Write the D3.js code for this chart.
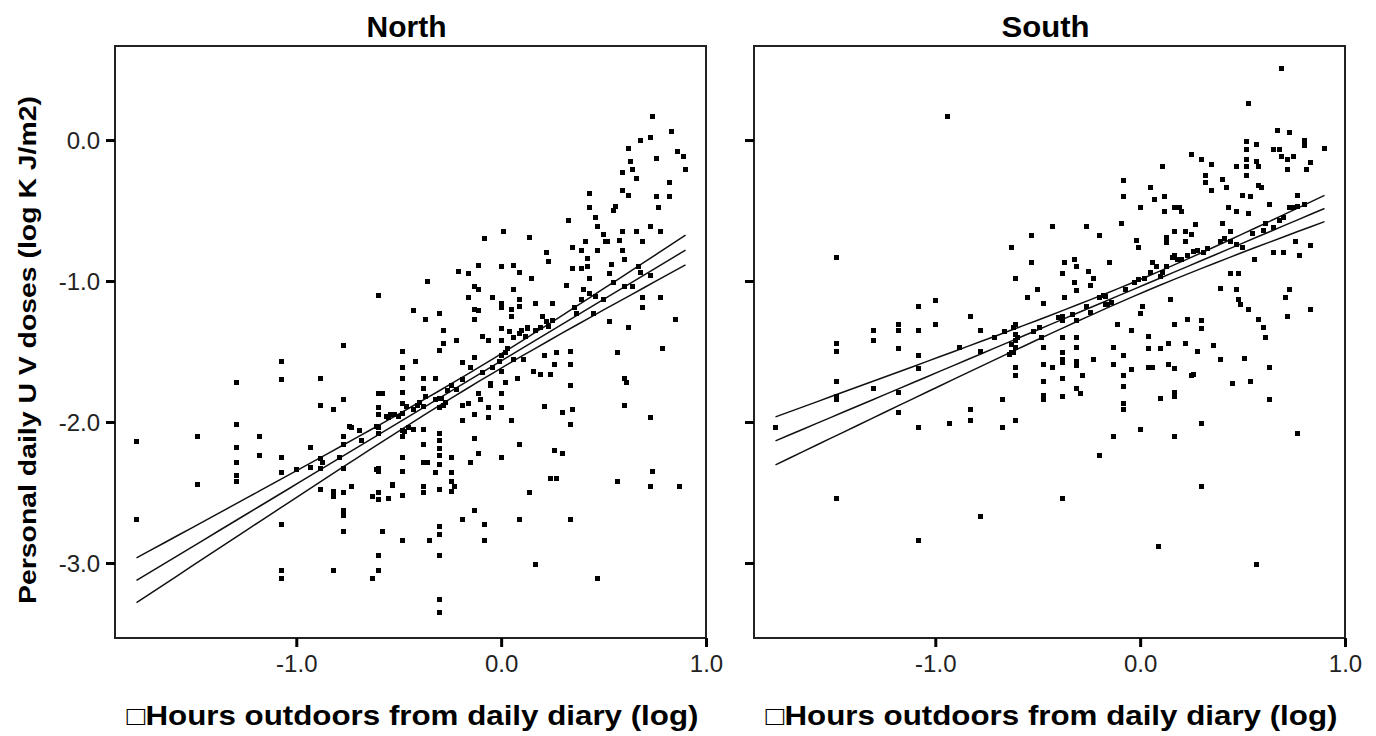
<!DOCTYPE html>
<html>
<head>
<meta charset="utf-8">
<script src="https://cdn.jsdelivr.net/npm/d3@7"></script>
<style>
    body { margin: 0; background: #ffffff; }
    svg { display: block; }
</style>
</head>
<body>
<svg id="uv_svg"></svg>
<script>
"use strict";

const width = 1376;
const height = 736;

const frame_top = 46;
const frame_bottom = 638;
const panel_left = [115, 754];
const panel_width = 591;

const marker_size = 5;
const tick_length = 9;

// panels, ticks
const panelNames = ["North", "South"];
const titleWidths = [80, 88];
const xTicks = [-1, 0, 1];
const xTickLabels = ["-1.0", "0.0", "1.0"];
const yTicks = [0, -1, -2, -3];
const yTickLabels = ["0.0", "-1.0", "-2.0", "-3.0"];
const xDomain = [-1.885, 1.0];
const yDomain = [-3.532, 0.667];

const xTitle = "\u25A1Hours outdoors from daily diary (log)";
const yTitle = "Personal daily U V doses (log K J/m2)";

// fitted line with confidence band (North, South)
const fitIntercept = [-1.567, -1.039];
const fitSlope = [0.874, 0.615];
const bandCenter = [-0.12, 0.03];
const bandMin = [0.05, 0.05];
const bandGrowth = [0.091, 0.090];

// scatter points [log hours, log dose]
const northPoints = [
    [-1.78,-2.14],[-1.78,-2.69],
    [-1.48,-2.10],[-1.48,-2.44],
    [-1.29,-1.72],[-1.29,-2.02],[-1.29,-2.18],[-1.29,-2.29],[-1.29,-2.38],[-1.29,-2.42],
    [-1.18,-2.10],[-1.18,-2.24],
    [-1.07,-1.57],[-1.07,-1.70],[-1.07,-2.25],[-1.07,-2.36],[-1.07,-2.73],[-1.07,-3.05],[-1.07,-3.11],
    [-1.00,-2.34],[-0.93,-2.18],[-0.93,-2.32],
    [-0.88,-1.69],[-0.88,-1.88],[-0.88,-2.33],[-0.88,-2.48],[-0.88,-2.26],[-0.87,-2.29],
    [-0.82,-1.91],[-0.82,-2.49],[-0.82,-2.53],[-0.82,-3.05],
    [-0.79,-2.25],
    [-0.77,-1.46],[-0.77,-1.84],[-0.77,-2.10],[-0.77,-2.16],[-0.77,-2.33],[-0.77,-2.50],[-0.77,-2.63],[-0.77,-2.66],[-0.77,-2.78],
    [-0.74,-2.03],[-0.73,-2.04],[-0.73,-2.46],[-0.69,-2.06],[-0.68,-2.13],
    [-0.63,-2.53],[-0.63,-3.11],[-0.61,-2.03],[-0.61,-2.34],
    [-0.60,-1.10],[-0.60,-1.80],[-0.60,-1.90],[-0.60,-1.95],[-0.60,-2.04],[-0.60,-2.08],[-0.60,-2.33],[-0.60,-2.35],
    [-0.60,-2.50],[-0.60,-2.55],[-0.60,-2.95],[-0.60,-3.05],
    [-0.58,-1.80],[-0.58,-2.78],[-0.56,-1.96],[-0.55,-1.97],[-0.55,-2.54],[-0.54,-1.95],[-0.53,-2.44],[-0.53,-2.45],[-0.52,-1.95],
    [-0.50,-1.96],
    [-0.48,-1.50],[-0.48,-1.61],[-0.48,-1.69],[-0.48,-1.79],[-0.48,-1.87],[-0.48,-1.94],[-0.48,-2.06],[-0.48,-2.10],
    [-0.48,-2.25],[-0.48,-2.35],[-0.48,-2.52],[-0.48,-2.84],
    [-0.47,-2.07],[-0.46,-1.89],[-0.45,-2.04],
    [-0.43,-1.21],[-0.42,-1.57],[-0.43,-1.91],[-0.43,-2.05],[-0.41,-1.88],[-0.40,-1.86],
    [-0.38,-1.69],[-0.38,-1.76],[-0.38,-1.89],[-0.38,-2.05],[-0.38,-2.16],[-0.38,-2.29],[-0.38,-2.46],[-0.38,-2.50],
    [-0.37,-1.27],[-0.37,-1.82],[-0.36,-1.00],[-0.35,-2.84],[-0.36,-2.29],
    [-0.32,-1.69],[-0.32,-2.36],[-0.32,-1.84],
    [-0.30,-1.23],[-0.30,-1.49],[-0.30,-1.83],[-0.30,-1.90],[-0.30,-2.08],[-0.30,-2.13],[-0.30,-2.19],[-0.30,-2.24],
    [-0.30,-2.30],[-0.30,-2.48],[-0.30,-2.74],[-0.30,-2.80],[-0.30,-2.95],[-0.30,-3.26],[-0.30,-3.35],
    [-0.29,-1.83],[-0.28,-1.88],
    [-0.28,-1.35],[-0.28,-1.44],[-0.27,-1.86],[-0.26,-1.78],
    [-0.24,-1.74],[-0.24,-2.25],[-0.24,-2.36],[-0.24,-2.42],[-0.24,-2.49],[-0.23,-2.46],[-0.22,-1.77],
    [-0.22,-1.42],[-0.21,-0.93],[-0.19,-1.58],[-0.19,-1.70],[-0.19,-1.88],[-0.19,-1.99],[-0.19,-2.69],
    [-0.16,-0.95],[-0.16,-1.12],[-0.16,-1.87],[-0.15,-1.61],[-0.15,-2.29],
    [-0.13,-1.04],[-0.13,-1.20],[-0.13,-1.27],[-0.13,-1.54],[-0.13,-1.95],[-0.13,-2.12],[-0.13,-2.63],
    [-0.11,-0.89],[-0.11,-1.06],[-0.11,-1.21],[-0.11,-1.80],[-0.11,-2.22],[-0.10,-1.84],
    [-0.09,-1.39],[-0.09,-1.65],[-0.08,-0.70],[-0.08,-2.73],[-0.08,-2.84],
    [-0.06,-1.42],[-0.06,-1.90],[-0.06,-1.97],[-0.05,-1.73],[-0.05,-1.74],[-0.04,-1.12],[-0.04,-1.61],
    [-0.01,-1.57],
    [0.00,-0.90],[0.00,-1.16],[0.00,-1.19],[0.00,-1.34],[0.00,-1.42],[0.00,-1.53],[0.00,-1.64],[0.00,-1.80],[0.00,-1.90],[0.00,-2.25],
    [0.01,-0.65],[0.02,-1.72],[0.02,-1.51],[0.03,-1.48],
    [0.05,-1.20],[0.05,-1.25],[0.04,-1.36],[0.05,-1.99],[0.06,-1.56],[0.06,-1.40],
    [0.06,-0.89],[0.06,-1.06],[0.08,-1.69],[0.09,-2.16],[0.09,-2.69],
    [0.09,-0.94],[0.09,-1.13],[0.09,-1.18],[0.09,-1.37],
    [0.10,-1.35],[0.11,-1.56],[0.12,-1.39],[0.13,-1.34],[0.13,-1.33],[0.14,-0.69],[0.14,-2.50],
    [0.15,-0.98],[0.16,-1.64],[0.17,-3.01],[0.17,-1.35],
    [0.17,-1.16],[0.19,-1.66],[0.19,-1.33],[0.20,-1.25],[0.21,-1.53],[0.21,-1.89],
    [0.22,-0.80],[0.22,-1.29],[0.23,-0.86],[0.23,-1.32],[0.24,-1.66],[0.24,-2.40],[0.25,-1.16],[0.25,-1.28],
    [0.26,-2.20],[0.26,-1.59],[0.27,-1.51],[0.27,-2.40],
    [0.30,-1.93],[0.30,-2.22],[0.32,-1.03],
    [0.33,-0.57],[0.34,-1.50],[0.34,-1.59],[0.34,-1.74],[0.34,-2.02],[0.34,-2.69],[0.35,-0.76],[0.35,-0.91],[0.35,-1.91],
    [0.36,-1.19],[0.37,-1.23],[0.39,-0.78],[0.39,-0.91],[0.39,-1.13],[0.40,-1.06],[0.42,-0.84],[0.42,-0.90],[0.41,-0.72],
    [0.43,-0.38],[0.43,-0.48],[0.43,-1.09],[0.45,-1.23],[0.43,-0.98],
    [0.46,-0.55],[0.46,-1.11],[0.47,-0.61],[0.47,-0.78],[0.47,-3.11],
    [0.50,-0.67],[0.50,-1.13],[0.51,-0.72],[0.52,-0.72],
    [0.53,-0.95],[0.53,-1.29],[0.54,-0.88],
    [0.55,-0.50],[0.55,-1.01],[0.56,-0.47],[0.57,-1.51],[0.57,-2.42],
    [0.58,-0.71],[0.59,-0.36],[0.59,-0.23],[0.59,-0.78],[0.59,-0.65],
    [0.60,-0.85],[0.60,-1.04],[0.60,-1.69],[0.61,-1.72],[0.60,-1.88],
    [0.62,-0.39],[0.62,-0.06],[0.63,-0.15],[0.62,-1.33],
    [0.64,-0.21],[0.64,-1.04],[0.66,-0.65],[0.66,-0.27],[0.67,-0.90],
    [0.68,0.00],[0.68,-0.94],[0.69,-1.12],[0.69,-1.19],[0.69,-0.72],
    [0.73,0.02],[0.73,-0.61],[0.73,-0.96],[0.73,-1.97],[0.73,-2.46],[0.74,-2.35],
    [0.74,0.17],[0.76,-0.13],[0.76,-0.40],[0.77,-0.48],[0.78,-0.65],[0.78,-1.12],[0.79,-1.48],
    [0.82,-0.30],[0.82,-0.40],[0.83,0.06],[0.85,-1.27],
    [0.86,-0.08],[0.89,-0.12],[0.90,-0.21],[0.87,-2.46]
];

const southPoints = [
    [-1.78,-2.04],
    [-1.48,-0.83],[-1.48,-1.44],[-1.48,-1.50],[-1.48,-1.71],[-1.48,-1.82],[-1.48,-1.84],[-1.48,-2.54],
    [-1.30,-1.35],[-1.30,-1.42],[-1.30,-1.76],
    [-1.18,-1.31],[-1.18,-1.35],[-1.18,-1.48],[-1.18,-1.79],[-1.18,-1.93],
    [-1.08,-1.18],[-1.08,-1.35],[-1.08,-1.53],[-1.08,-1.62],[-1.08,-2.04],[-1.08,-2.84],
    [-1.00,-1.14],[-1.00,-1.31],
    [-0.94,0.17],[-0.93,-2.01],
    [-0.88,-1.47],
    [-0.83,-1.25],[-0.83,-1.91],[-0.83,-1.99],
    [-0.78,-1.35],[-0.78,-1.50],[-0.78,-2.67],
    [-0.71,-1.40],[-0.67,-1.84],[-0.67,-2.04],[-0.66,-1.36],
    [-0.64,-1.52],[-0.63,-0.76],[-0.63,-1.51],[-0.63,-1.45],[-0.62,-1.33],[-0.62,-1.51],
    [-0.61,-0.98],[-0.61,-1.31],[-0.61,-1.38],[-0.61,-1.42],[-0.61,-1.47],[-0.61,-1.61],[-0.61,-1.67],[-0.61,-1.99],
    [-0.60,-1.40],
    [-0.55,-1.12],
    [-0.53,-0.68],[-0.53,-0.87],[-0.52,-1.36],
    [-0.50,-1.06],[-0.49,-1.33],[-0.48,-1.40],
    [-0.47,-1.16],[-0.47,-1.47],[-0.47,-1.59],[-0.47,-1.71],[-0.47,-1.81],[-0.47,-1.84],
    [-0.43,-0.61],[-0.43,-1.61],
    [-0.40,-1.26],[-0.38,-1.28],
    [-0.38,-0.95],[-0.38,-1.25],[-0.38,-1.40],[-0.38,-1.51],[-0.38,-1.56],[-0.38,-1.58],[-0.38,-1.69],[-0.38,-1.82],[-0.38,-2.54],
    [-0.37,-0.87],[-0.37,-1.12],
    [-0.33,-1.24],[-0.32,-0.85],[-0.32,-1.01],[-0.31,-0.90],[-0.31,-1.07],[-0.31,-1.28],[-0.31,-1.40],[-0.31,-1.47],[-0.31,-1.57],
    [-0.31,-1.60],[-0.31,-1.76],[-0.29,-1.80],[-0.28,-1.67],
    [-0.26,-0.61],[-0.26,-1.18],[-0.25,-0.93],[-0.24,-1.03],[-0.24,-1.22],[-0.23,-0.98],
    [-0.23,-1.56],
    [-0.20,-0.68],[-0.20,-1.12],[-0.20,-2.24],
    [-0.18,-1.10],[-0.17,-1.17],[-0.17,-1.11],[-0.16,-1.17],
    [-0.15,-0.87],[-0.14,-1.15],
    [-0.13,-1.47],[-0.13,-1.59],[-0.13,-2.10],
    [-0.11,-1.31],
    [-0.09,-0.59],
    [-0.08,-0.29],[-0.08,-0.40],[-0.08,-1.53],[-0.08,-1.67],[-0.08,-1.75],[-0.08,-1.87],[-0.08,-1.91],
    [-0.07,-1.06],
    [-0.04,-1.35],[-0.04,-1.63],[-0.03,-1.01],
    [-0.02,-0.71],[-0.01,-0.76],[-0.01,-0.99],
    [0.00,-0.48],[0.00,-1.23],[0.00,-2.05],
    [0.01,-1.18],[0.02,-0.98],
    [0.04,-1.39],[0.04,-1.48],[0.04,-1.61],[0.06,-1.61],[0.05,-0.94],
    [0.05,-0.34],[0.06,-0.87],[0.07,-0.42],[0.08,-0.90],[0.09,-2.88],
    [0.10,-1.83],[0.10,-1.48],[0.10,-0.97],
    [0.11,-0.19],[0.11,-0.94],[0.12,-0.40],[0.12,-0.51],
    [0.13,-0.69],[0.13,-0.73],[0.13,-0.90],
    [0.14,-1.44],[0.14,-1.59],[0.15,-1.13],
    [0.16,-0.83],[0.17,-0.82],[0.18,-0.85],
    [0.17,-0.48],[0.17,-0.65],[0.17,-1.31],[0.17,-1.79],[0.17,-1.82],[0.17,-2.10],[0.17,-1.62],
    [0.19,-0.48],[0.20,-0.51],[0.20,-0.85],[0.22,-0.65],[0.22,-0.72],
    [0.23,-1.27],[0.22,-1.44],[0.23,-0.82],
    [0.25,-0.10],[0.25,-0.67],[0.25,-1.67],[0.26,-1.66],[0.26,-0.79],
    [0.27,-0.60],[0.28,-0.78],[0.30,-0.14],
    [0.28,-1.50],[0.30,-1.28],[0.30,-1.34],[0.30,-2.01],[0.30,-2.46],
    [0.31,-0.80],[0.33,-0.77],
    [0.32,-0.25],[0.32,-0.30],[0.35,-0.17],[0.35,-0.36],
    [0.36,-1.46],[0.39,-1.05],[0.39,-1.56],[0.39,-0.72],
    [0.40,-0.59],[0.40,-0.28],[0.41,-0.70],[0.42,-0.34],
    [0.43,-0.48],[0.44,-0.65],[0.44,-0.72],[0.45,-1.73],[0.44,-0.95],
    [0.47,-0.19],[0.47,-0.51],[0.47,-0.74],[0.47,-1.06],[0.48,-0.95],[0.48,-1.13],[0.49,-1.17],
    [0.50,-0.39],[0.50,-0.76],[0.51,-1.55],
    [0.52,-0.01],[0.52,-0.07],[0.52,-0.14],[0.52,-0.19],[0.52,-0.25],[0.53,-0.52],[0.53,-1.20],[0.54,-0.40],[0.54,-1.71],
    [0.55,-0.66],[0.56,-0.85],
    [0.57,-0.03],[0.57,-0.15],[0.58,-0.19],[0.58,-0.32],[0.59,-0.34],
    [0.58,-1.27],[0.60,-1.33],[0.60,-0.64],[0.61,-1.40],[0.63,-1.61],[0.63,-1.84],[0.63,-0.46],[0.61,-0.59],[0.57,-3.01],
    [0.65,-0.07],[0.65,-0.62],[0.65,-0.80],[0.67,0.07],[0.68,-0.07],[0.68,-0.57],[0.69,-0.12],[0.70,-0.55],[0.70,-0.80],
    [0.71,-1.12],[0.72,-1.25],[0.72,-0.14],[0.72,-0.21],[0.73,0.05],[0.73,-0.48],[0.73,-1.06],
    [0.75,-0.12],[0.75,-0.48],[0.76,-0.72],[0.77,-0.39],[0.77,-0.47],[0.77,-2.08],[0.78,-0.82],
    [0.80,0.00],[0.80,-0.04],[0.81,-0.21],[0.80,-0.46],
    [0.83,-0.16],[0.83,-0.75],[0.83,-1.20],
    [0.90,-0.06],
    [0.69,0.51],[0.53,0.26]
];

const panelData = [northPoints, southPoints];


const svg1 = d3.select("#uv_svg")
    .attr("width", width)
    .attr("height", height);

svg1.append("rect")
    .attr("width", width)
    .attr("height", height)
    .attr("fill", "#ffffff");

const yScale = d3.scaleLinear()
    .domain(yDomain)
    .range([frame_bottom, frame_top]);


function drawPanel(p) {
    const left = panel_left[p];
    const data = panelData[p];

    const xScale = d3.scaleLinear()
        .domain(xDomain)
        .range([left, left + panel_width]);

    const g = svg1.append("g");

    // frame
    g.append("rect")
        .attr("x", left)
        .attr("y", frame_top)
        .attr("width", panel_width)
        .attr("height", frame_bottom - frame_top)
        .attr("fill", "none")
        .attr("stroke", "#222")
        .attr("stroke-width", 2);

    // title
    g.append("text")
        .attr("x", left + panel_width / 2 - 4)
        .attr("y", 37)
        .attr("text-anchor", "middle")
        .attr("textLength", titleWidths[p])
        .attr("lengthAdjust", "spacingAndGlyphs")
        .style("font-family", "'Liberation Sans', Arial, sans-serif")
        .style("font-weight", "bold")
        .style("font-size", "29px")
        .text(panelNames[p]);

    // x axis
    const xAxis = d3.axisBottom(xScale)
        .tickValues(xTicks)
        .tickFormat((d, i) => xTickLabels[i])
        .tickSize(tick_length)
        .tickSizeOuter(0)
        .tickPadding(8);

    const gx = g.append("g")
        .attr("transform", `translate(0, ${frame_bottom})`)
        .call(xAxis);
    gx.select(".domain").remove();
    gx.selectAll("line").attr("stroke", "#000").attr("stroke-width", 3);
    gx.selectAll("text")
        .style("font-family", "'Liberation Sans', Arial, sans-serif")
        .style("font-size", "24px")
        .attr("fill", "#222");

    // y axis, labels only on the first panel
    const yAxis = d3.axisLeft(yScale)
        .tickValues(yTicks)
        .tickFormat((d, i) => p === 0 ? yTickLabels[i] : "")
        .tickSize(tick_length)
        .tickSizeOuter(0)
        .tickPadding(6);

    const gy = g.append("g")
        .attr("transform", `translate(${left}, 0)`)
        .call(yAxis);
    gy.select(".domain").remove();
    gy.selectAll("line").attr("stroke", "#000").attr("stroke-width", 3);
    gy.selectAll("text")
        .style("font-family", "'Liberation Sans', Arial, sans-serif")
        .style("font-size", "24px")
        .attr("dy", "0.35em")
        .attr("fill", "#222");

    // x title
    g.append("text")
        .attr("x", left + panel_width / 2 + 2)
        .attr("y", 725)
        .attr("text-anchor", "middle")
        .attr("textLength", 572)
        .attr("lengthAdjust", "spacingAndGlyphs")
        .style("font-family", "'Liberation Sans', Arial, sans-serif")
        .style("font-weight", "bold")
        .style("font-size", "27px")
        .text(xTitle);

    // confidence band and fit line
    const xExtent = d3.extent(data, d => d[0]);
    const xs = d3.range(41).map(i => xExtent[0] + (xExtent[1] - xExtent[0]) * i / 40);
    const fit = x => fitIntercept[p] + fitSlope[p] * x;
    const half = x => Math.sqrt(bandMin[p] ** 2 + (bandGrowth[p] * (x - bandCenter[p])) ** 2);

    const line = d3.line()
        .x(d => xScale(d[0]))
        .y(d => yScale(d[1]));

    const curves = [
        xs.map(x => [x, fit(x) + half(x)]),
        xs.map(x => [x, fit(x)]),
        xs.map(x => [x, fit(x) - half(x)])
    ];

    g.append("g")
        .selectAll("path")
        .data(curves)
        .enter()
        .append("path")
        .attr("d", line)
        .attr("fill", "none")
        .attr("stroke", "#111")
        .attr("stroke-width", 1.5);

    // points
    g.append("g")
        .attr("shape-rendering", "crispEdges")
        .selectAll("rect")
        .data(data)
        .enter()
        .append("rect")
        .attr("x", d => Math.round(xScale(d[0]) - marker_size / 2))
        .attr("y", d => Math.round(yScale(d[1]) - marker_size / 2))
        .attr("width", marker_size)
        .attr("height", marker_size)
        .attr("fill", "#000");
}

drawPanel(0);
drawPanel(1);

// y title
svg1.append("text")
    .attr("transform", `translate(36, 350) rotate(-90)`)
    .attr("text-anchor", "middle")
    .attr("textLength", 508)
    .attr("lengthAdjust", "spacingAndGlyphs")
    .style("font-family", "'Liberation Sans', Arial, sans-serif")
    .style("font-weight", "bold")
    .style("font-size", "23px")
    .text(yTitle);

</script>
</body>
</html>
